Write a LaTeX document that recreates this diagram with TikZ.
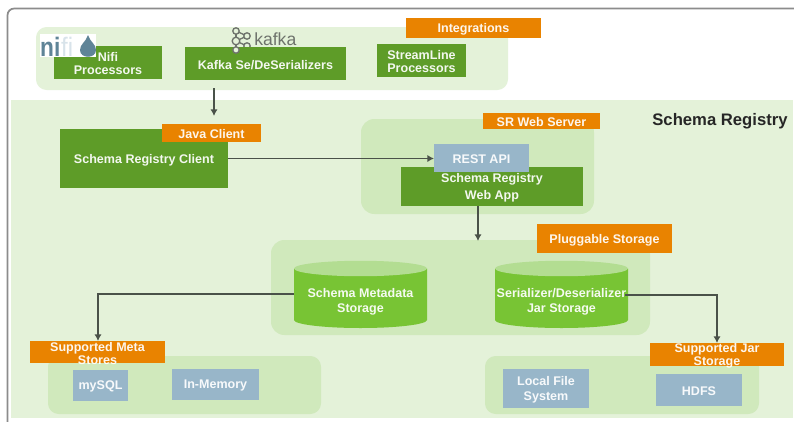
\documentclass[tikz,border=0pt]{standalone}
\usepackage{fontspec}
\setmainfont{Liberation Sans}
\usetikzlibrary{arrows.meta}
\definecolor{panela}{HTML}{E4F2D9}
\definecolor{panelb}{HTML}{D0E9BC}
\definecolor{gbox}{HTML}{5E9C28}
\definecolor{obox}{HTML}{E98300}
\definecolor{bbox}{HTML}{98B6C9}
\definecolor{cyl}{HTML}{78C434}
\definecolor{cyltop}{HTML}{B3DD92}
\definecolor{arrowc}{HTML}{4A5249}
\definecolor{framec}{HTML}{8C8C8C}
\definecolor{nifidark}{HTML}{5F8497}
\definecolor{nifilight}{HTML}{D8E3EA}
\definecolor{kafkac}{HTML}{6E736C}
\tikzset{
 lbl/.style={font=\bfseries\fontsize{9.4}{9.6}\selectfont,text=white,align=center,inner sep=0pt,text opacity=.93,yshift=-1pt},
 conn/.style={draw=arrowc,line width=1.35pt,-{Latex[length=5pt,width=5.5pt]}},
 panelB/.style={fill=panelb,rounded corners=10pt},
}
\newcommand{\bx}[7]{% name, fill, x1,y1,x2,y2, text
 \fill[#2] (#3,#4) rectangle (#5,#6);
 \node[lbl] (#1) at ({(#3+#5)/2},{(#4+#6)/2}) {#7};
}
\begin{document}
\begin{tikzpicture}[x=0.75pt,y=-0.75pt]
\useasboundingbox (0,0) rectangle (794,422);
\fill[white] (0,0) rectangle (794,422);
% outer frame
\draw[framec,line width=1.3pt,rounded corners=5pt] (7.5,422) -- (7.5,8.5) -- (794,8.5);
% panels
\fill[panela] (11,100) rectangle (793,418);
\fill[panela,rounded corners=8pt] (36,27) rectangle (508,90);
\fill[panelB] (361,119) rectangle (594,214);
\fill[panelB] (271,240) rectangle (650,335);
\fill[panelB,rounded corners=8pt] (48,356) rectangle (321,414);
\fill[panelB,rounded corners=8pt] (485,356) rectangle (759,414);
% kafka logo
\begin{scope}[line width=1pt]
\draw[kafkac] (236,31) -- (236,50);
\draw[kafkac] (236,41) -- (247,36) (236,41) -- (247,46);
\draw[kafkac] (236,31) -- (247,36);
\fill[panela,draw=kafkac] (236,31) circle (3.2) (236,41) circle (3.8) (247,36) circle (3.2) (247,46) circle (3.2);
\end{scope}
\node[font=\fontsize{13.2}{13}\selectfont,text=kafkac,inner sep=0pt,anchor=base west] (kafkalogo) at (254,45) {kafka};
% boxes of the top row
\bx{nifi}{gbox}{54}{46}{162}{79}{Nifi\\Processors}
\bx{kafka}{gbox}{185}{47}{346}{80}{Kafka Se/DeSerializers}
\fill[panela,draw=kafkac,line width=1pt] (236,50) circle (3.2);
\bx{stream}{gbox}{377}{44}{466}{77}{StreamLine\\Processors}
\bx{integ}{obox}{406}{18}{541}{38}{Integrations}
% nifi logo
\fill[white] (40,34) rectangle (96,57);
\node[font=\bfseries\fontsize{20}{20}\selectfont,text=nifidark,inner sep=0pt,anchor=base west,xscale=.85] (nifilogoa) at (40,56) {ni};
\node[font=\fontsize{20}{20}\selectfont,text=nifilight,inner sep=0pt,anchor=base west,xscale=.9] (nifilogob) at (61,56) {fi};
\fill[nifidark] (88,35) .. controls (86,42) and (80,44) .. (80,50) .. controls (80,59) and (96,59) .. (96,50) .. controls (96,44) and (90,42) .. (88,35) -- cycle;
% client
\bx{client}{gbox}{60}{129}{228}{188}{Schema Registry Client}
\bx{java}{obox}{162}{124}{261}{142}{Java Client}
% web server
\bx{webapp}{gbox}{401}{167}{583}{206}{Schema Registry\\[3pt]Web App}
\bx{rest}{bbox}{434}{144}{529}{172}{REST API}
\bx{srweb}{obox}{483}{113}{600}{129}{SR Web Server}
\node[font=\bfseries\fontsize{12.5}{13}\selectfont,text=black!85,inner sep=0pt] (title) at (720,121) {Schema Registry};
% cylinders
\foreach \xa/\xb in {294/427,495/628}{
 \fill[cyl] (\xa,268.5) -- (\xa,320) arc[start angle=180,end angle=360,x radius={(\xb-\xa)/2*0.75pt},y radius=6pt] -- (\xb,268.5) -- cycle;
 \fill[cyltop] ({(\xa+\xb)/2},268.5) ellipse[x radius={(\xb-\xa)/2*0.75pt},y radius=5.8pt];
}
\node[lbl] (metastore) at (360.5,300.5) {Schema Metadata\\[1.6pt]Storage};
\node[lbl] (jarstore) at (561.5,300.5) {Serializer/Deserializer\\[1.6pt]Jar Storage};
\coordinate (metaR) at (294,294);
\coordinate (jarR) at (625,295);
\bx{pluggable}{obox}{537}{224}{672}{253}{Pluggable Storage}
% lower groups
\bx{meta}{obox}{30}{341}{165}{363}{Supported Meta\\Stores}
\bx{mysql}{bbox}{73}{370}{128}{401}{mySQL}
\bx{inmem}{bbox}{172}{369}{259}{400}{In-Memory}
\bx{local}{bbox}{503}{369}{589}{408}{Local File\\[1.6pt]System}
\bx{hdfs}{bbox}{656}{374}{742}{406}{HDFS}
\bx{jar}{obox}{650}{343}{784}{366}{Supported Jar\\Storage}
% connectors
\coordinate (kafkaout) at (214,88);
\coordinate (clientin) at (214,116);
\coordinate (storagein) at (478,241);
\coordinate (webout) at (478,206);
\coordinate (clientR) at (228,158.5);
\coordinate (restL) at (434,158.5);
\coordinate (metaT) at (98,341);
\coordinate (jarT) at (717,343);
\draw[conn] (kafkaout) -- (clientin);
\draw[conn] (clientR) -- (restL);
\draw[conn] (webout) -- (storagein);
\draw[conn] (metaR) -- (98,294) -- (metaT);
\draw[conn] (jarR) -- (717,295) -- (jarT);
\end{tikzpicture}
\end{document}
